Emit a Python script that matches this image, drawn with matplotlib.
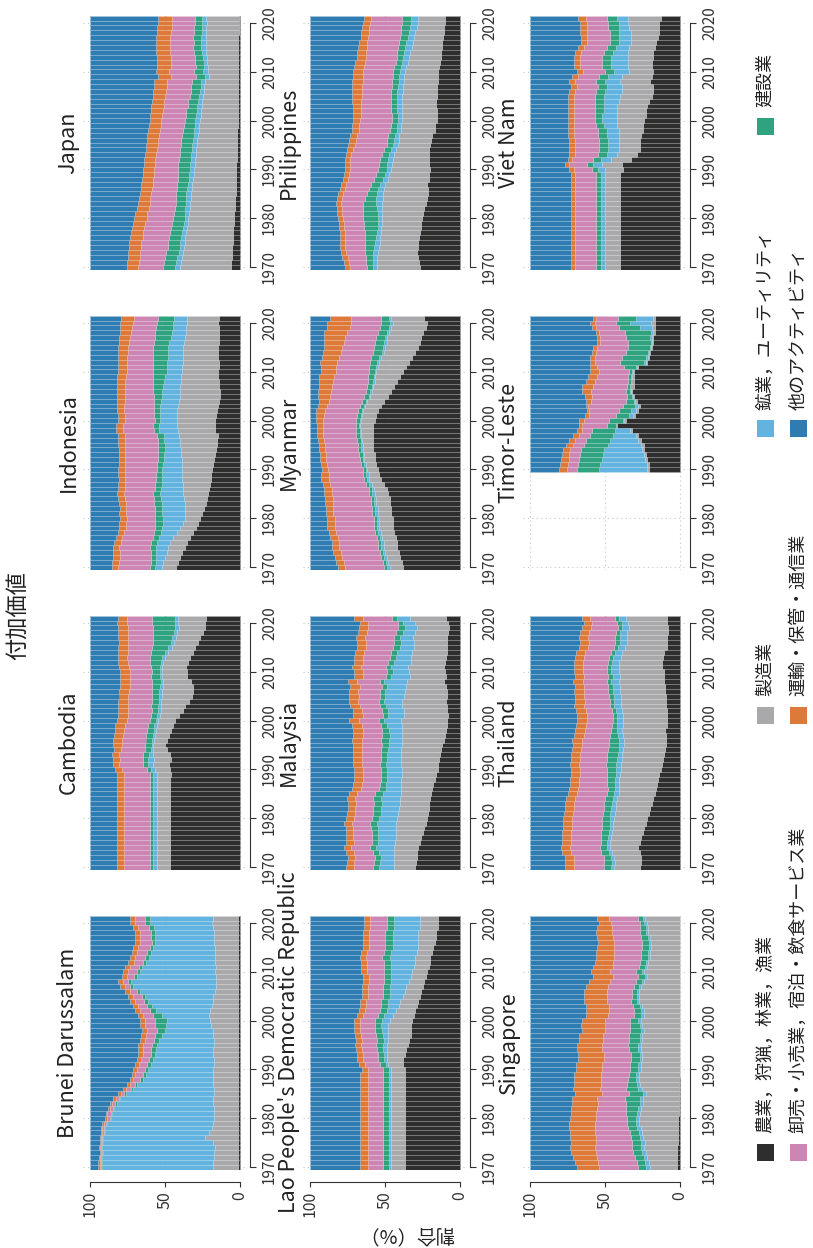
import numpy as np
import matplotlib.pyplot as plt
from matplotlib.patches import Rectangle

plt.rcParams['font.family'] = ['Noto Sans CJK JP', 'DejaVu Sans']

years = np.arange(1970, 2022)
years_tls = np.arange(1990, 2022)

sector_names = ['農業，狩猟，林業，漁業', '製造業', '鉱業，ユーティリティ', '建設業',
                '卸売・小売業，宿泊・飲食サービス業', '運輸・保管・通信業', '他のアクティビティ']
sector_colors = ['#2e2e2e', '#a9a9ab', '#62b3e0', '#2fa37f', '#cd86b4', '#dd7a3a', '#2f7cb2']

# shares in %, 1970-2021 (Timor-Leste 1990-2021); "other" is the rest up to 100
jpn_agri = [6.0,5.8,5.5,5.3,5.1,5.0,4.8,4.6,4.4,4.2,
            4.0,3.7,3.5,3.3,3.2,3.0,2.9,2.8,2.7,2.6,
            2.5,2.4,2.2,2.1,2.0,1.8,1.8,1.7,1.7,1.6,
            1.5,1.5,1.4,1.4,1.3,1.2,1.2,1.1,1.1,1.1,
            1.1,1.1,1.1,1.1,1.1,1.1,1.1,1.1,1.0,1.0,
            1.0,1.0]
jpn_manuf = [34.0,33.6,33.0,32.5,32.2,32.0,31.6,31.2,30.8,30.7,
             30.5,30.3,30.1,29.9,29.8,29.7,29.3,29.0,28.6,28.3,
             28.0,27.8,27.6,27.3,27.1,27.0,26.6,26.3,25.9,25.5,
             25.2,24.8,24.5,24.1,23.9,23.2,23.0,22.8,22.5,19.6,
             20.4,20.1,20.6,21.0,21.3,21.8,21.7,21.9,21.6,21.5,
             21.2,21.4]
jpn_mining = [3.3,3.2,3.2,3.1,2.8,2.9,3.0,3.0,2.9,2.6,
              2.3,2.6,2.8,2.9,2.9,3.0,3.1,3.0,2.9,2.8,
              2.9,2.9,3.0,3.0,3.1,3.1,3.0,3.0,3.1,3.1,
              3.0,3.0,3.0,2.9,2.8,2.7,2.5,2.4,2.3,2.8,
              2.9,2.6,2.5,2.6,2.8,3.0,3.1,3.0,2.9,2.9,
              2.9,2.8]
jpn_constr = [7.8,7.9,8.1,8.5,8.2,8.0,7.9,8.0,8.1,8.0,
              7.7,7.5,7.2,6.9,6.8,6.7,6.8,7.1,7.4,7.6,
              7.8,8.0,8.0,7.8,7.6,7.5,7.7,7.5,7.3,7.3,
              7.2,7.0,6.8,6.6,6.4,6.3,6.2,6.1,6.0,6.0,
              6.0,5.8,5.6,5.5,5.4,5.2,5.1,5.1,5.0,5.0,
              5.0,4.9]
jpn_trade = [16.7,16.9,17.2,17.5,17.6,17.8,17.6,17.7,17.9,17.8,
             17.8,17.6,17.4,17.2,17.0,16.8,16.6,16.4,16.2,16.1,
             16.0,15.9,15.8,15.7,15.6,15.6,15.5,15.5,15.4,15.5,
             15.5,15.6,15.8,16.0,16.2,16.3,16.4,16.5,16.6,16.6,
             16.7,16.5,16.2,16.0,15.8,15.6,15.5,15.4,15.3,15.2,
             15.1,15.0]
jpn_transport = [7.8,7.8,7.9,8.0,8.1,8.1,8.2,8.2,8.2,8.2,
                 8.2,8.1,8.0,7.9,7.8,7.7,7.6,7.5,7.4,7.4,
                 7.3,7.3,7.4,7.5,7.6,7.6,7.7,7.7,7.8,7.8,
                 7.8,7.9,8.0,8.2,8.4,8.5,8.6,8.7,8.8,8.9,
                 8.9,9.0,9.1,9.2,9.3,9.4,9.5,9.6,9.7,9.8,
                 9.8,9.8]

idn_agri = [42.9,41.5,40.0,38.5,37.0,35.6,33.5,31.5,29.5,28.0,
            26.7,25.5,24.0,23.0,22.0,21.1,20.5,20.0,19.5,19.2,
            18.9,18.0,17.5,16.8,16.0,15.6,15.3,15.0,16.5,17.0,
            16.7,16.0,15.5,15.0,14.0,13.3,13.5,13.7,14.0,14.5,
            14.4,14.2,14.3,14.4,14.5,14.4,14.3,14.2,14.1,14.0,
            14.4,14.2]
idn_manuf = [9.3,9.6,10.0,10.4,10.8,11.1,10.9,10.6,10.3,10.1,
             10.0,11.2,12.5,13.8,15.2,16.7,17.5,18.3,19.0,19.5,
             20.0,20.8,21.5,22.3,23.5,24.4,25.0,25.5,25.0,25.3,
             25.5,26.0,26.3,26.5,26.7,26.7,26.5,26.0,25.5,25.0,
             24.5,24.3,24.0,23.8,23.6,23.4,23.0,22.6,22.2,21.8,
             21.2,21.0]
idn_mining = [4.5,5.2,6.0,7.0,8.5,8.9,9.8,10.8,12.0,13.5,
              14.4,15.0,15.3,15.5,15.6,15.5,14.5,14.0,13.5,13.2,
              12.9,12.5,12.0,11.5,10.5,10.0,10.2,10.5,12.5,12.0,
              11.1,11.5,11.8,12.0,12.1,12.2,12.0,11.6,11.0,10.5,
              10.0,10.1,10.2,10.1,10.0,10.0,9.8,9.5,9.3,9.1,
              8.8,8.6]
idn_constr = [3.3,3.3,3.4,3.4,3.5,3.5,4.0,4.5,5.0,5.3,
              5.6,5.3,5.0,4.8,4.6,4.5,4.3,4.1,4.0,3.9,
              3.8,3.9,4.0,4.2,4.4,4.5,4.4,4.2,3.6,3.5,
              3.4,3.6,3.8,4.1,4.5,5.0,5.8,6.5,7.5,8.2,
              8.9,9.2,9.5,9.7,9.9,10.0,10.2,10.5,10.8,11.0,
              11.2,11.1]
idn_trade = [21.1,21.0,20.9,20.7,20.6,20.5,20.2,19.8,19.4,19.1,
             18.9,19.0,19.1,19.2,19.4,19.5,19.9,20.3,20.6,20.9,
             21.1,21.3,21.5,21.7,22.0,22.2,22.0,21.5,20.5,20.2,
             20.0,19.9,19.8,19.7,19.6,19.5,19.2,18.8,18.4,18.1,
             17.8,17.6,17.4,17.1,16.9,16.7,16.5,16.3,16.1,15.8,
             15.5,15.6]
idn_transport = [4.5,4.5,4.5,4.4,4.4,4.4,4.4,4.4,4.4,4.4,
                 4.4,4.4,4.4,4.4,4.4,4.4,4.4,4.4,4.4,4.4,
                 4.4,4.4,4.4,4.5,4.5,4.5,4.5,4.5,4.4,4.4,
                 4.4,4.5,4.6,4.7,4.8,5.0,5.1,5.2,5.3,5.4,
                 5.5,5.7,5.9,6.1,6.4,6.7,7.0,7.3,7.6,8.0,
                 8.9,8.6]

khm_agri = [46.7,46.7,46.7,46.7,46.7,46.7,46.7,46.7,46.7,46.7,
            46.7,46.7,46.7,46.7,46.7,46.7,46.7,46.7,46.7,46.0,
            46.7,47.5,46.0,47.0,49.0,50.0,49.0,47.5,46.0,45.0,
            43.3,40.5,38.0,36.5,34.0,32.2,31.5,31.5,33.0,35.5,
            35.6,35.8,35.0,33.5,31.5,30.0,28.0,26.5,25.0,23.5,
            23.3,23.0]
khm_manuf = [8.9,8.9,8.9,8.9,8.9,8.9,8.9,8.9,8.9,8.9,
             8.9,8.9,8.9,8.9,8.9,8.9,8.9,8.9,8.9,9.5,
             10.0,10.5,11.5,11.0,9.0,7.8,8.2,9.0,10.0,10.5,
             11.1,13.0,15.0,16.5,18.5,20.0,20.5,20.0,18.5,16.5,
             16.2,16.0,16.2,16.5,16.2,15.6,16.0,16.5,17.0,17.5,
             17.8,18.5]
khm_mining = [2.2,2.2,2.2,2.2,2.2,2.2,2.2,2.2,2.2,2.2,
              2.2,2.2,2.2,2.2,2.2,2.2,2.2,2.2,2.2,2.3,
              2.6,3.5,4.0,3.0,1.5,1.1,1.2,1.4,1.5,1.6,
              1.8,1.8,1.8,1.7,1.7,1.8,1.7,1.6,1.5,1.5,
              1.5,1.6,1.7,1.9,2.1,2.2,2.3,2.3,2.2,2.2,
              2.2,2.1]
khm_constr = [2.2,2.2,2.2,2.2,2.2,2.2,2.2,2.2,2.2,2.2,
              2.2,2.2,2.2,2.2,2.2,2.2,2.2,2.2,2.2,2.5,
              2.9,3.0,3.0,3.5,4.0,4.4,4.6,4.5,4.2,4.0,
              3.8,4.0,4.2,4.5,4.8,4.9,5.2,5.5,5.8,5.6,
              5.6,6.0,6.8,8.0,9.5,11.1,12.0,13.0,14.0,15.0,
              15.6,15.0]
khm_trade = [17.1,17.1,17.1,17.1,17.1,17.1,17.1,17.1,17.1,17.1,
             17.1,17.1,17.1,17.1,17.1,17.1,17.1,17.1,17.1,17.0,
             16.7,16.0,15.5,16.0,15.8,15.6,15.6,15.5,15.5,15.6,
             15.6,15.6,15.5,15.5,15.5,15.5,15.3,15.0,14.7,14.5,
             14.4,14.5,14.8,15.2,15.6,16.0,16.3,16.5,16.6,16.7,
             16.7,16.5]
khm_transport = [5.1,5.1,5.1,5.1,5.1,5.1,5.1,5.1,5.1,5.1,
                 5.1,5.1,5.1,5.1,5.1,5.1,5.1,5.1,5.1,5.0,
                 4.4,4.5,4.6,4.8,5.0,5.5,5.8,6.0,6.3,6.5,
                 6.6,6.6,6.6,6.6,6.6,6.6,6.7,6.7,6.7,6.7,
                 6.7,6.7,6.6,6.5,6.4,6.2,6.3,6.4,6.5,6.6,
                 6.6,6.5]

brn_agri = [1.2,1.2,1.2,1.2,1.2,1.2,1.2,1.2,1.2,1.2,
            1.2,1.2,1.2,1.2,1.2,1.2,1.2,1.2,1.2,1.2,
            1.2,1.2,1.2,1.2,1.2,1.2,1.2,1.2,1.2,1.2,
            1.2,1.2,1.2,1.2,1.2,1.2,1.2,1.2,1.2,1.2,
            1.2,1.2,1.2,1.2,1.2,1.2,1.2,1.2,1.2,1.2,
            1.2,1.2]
brn_manuf = [16.6,16.6,16.4,16.0,15.5,16.6,22.0,19.5,17.5,16.8,
             16.0,16.2,16.4,16.6,16.6,16.4,16.4,16.6,16.6,16.6,
             16.6,16.4,16.4,16.6,16.6,16.4,16.4,16.6,17.0,18.0,
             18.8,19.5,18.5,17.5,17.0,16.6,15.5,15.0,14.5,15.0,
             15.4,15.0,15.2,15.4,15.6,15.5,16.0,16.2,16.4,16.6,
             17.6,17.0]
brn_mining = [74.4,74.5,74.3,74.0,75.2,73.3,67.9,69.6,71.3,70.7,
              68.8,68.1,66.3,64.5,61.9,58.6,54.0,50.8,47.1,45.2,
              43.3,41.9,40.3,38.7,38.3,38.0,36.1,34.2,31.9,30.3,
              28.9,31.1,36.5,39.9,43.4,45.5,50.3,55.1,56.9,52.6,
              50.1,49.1,46.2,44.4,42.7,41.1,39.2,39.0,38.9,39.8,
              41.2,41.8]
brn_constr = [0.5,0.5,0.5,0.6,0.6,0.7,0.7,0.7,0.7,0.7,
              0.7,0.7,0.8,0.8,0.9,0.9,1.2,1.5,1.8,2.0,
              2.2,2.4,2.6,2.8,3.0,3.3,3.8,4.4,5.5,7.0,
              7.8,6.0,4.0,3.2,2.6,2.3,2.0,2.0,2.0,2.2,
              2.2,2.2,2.2,2.2,2.2,2.2,2.5,2.8,3.0,3.2,
              3.3,3.3]
brn_trade = [0.6,0.6,0.7,0.7,0.8,0.9,0.9,1.0,1.2,1.5,
             2.2,2.2,2.2,2.2,2.2,2.2,3.0,3.5,4.5,5.0,
             5.6,5.6,5.6,5.5,5.5,5.5,5.8,6.2,6.6,6.8,
             6.6,6.6,6.4,6.0,5.8,5.5,4.5,3.5,3.3,4.5,
             5.5,5.8,6.2,6.8,7.2,7.8,7.8,7.5,7.2,7.0,
             6.7,6.7]
brn_transport = [1.1,1.0,0.9,0.8,0.7,0.6,0.6,0.7,0.8,0.9,
                 1.1,1.2,1.3,1.4,1.6,1.8,2.0,2.0,2.1,2.2,
                 2.2,2.5,2.8,3.0,3.2,3.4,3.4,3.4,3.4,3.4,
                 3.4,3.4,3.4,3.3,3.3,3.3,3.2,3.2,3.2,3.4,
                 3.4,3.4,3.4,3.3,3.3,3.3,3.3,3.3,3.3,3.3,
                 3.3,3.3]

phl_agri = [26.7,27.5,28.0,28.5,28.2,27.8,27.3,26.8,26.3,25.9,
            25.6,25.0,24.0,23.0,22.0,21.1,21.5,21.8,21.0,20.5,
            20.0,20.5,21.0,21.0,20.5,20.0,19.5,18.5,17.0,16.5,
            15.6,15.5,15.6,15.7,15.8,15.6,15.4,15.2,15.0,14.7,
            14.4,14.0,13.5,13.0,12.6,12.2,11.8,11.3,10.8,10.4,
            10.0,10.2]
phl_manuf = [28.9,28.0,27.2,26.5,26.0,25.5,25.8,26.0,26.2,26.4,
             26.6,27.2,28.0,28.8,29.5,30.0,29.0,28.0,27.2,26.6,
             26.0,25.0,24.0,23.0,22.0,21.1,21.5,22.0,22.5,22.9,
             23.3,23.2,23.1,23.0,22.9,22.8,22.7,22.6,22.5,22.4,
             22.3,21.9,21.5,21.0,20.5,20.0,19.6,19.2,18.9,18.6,
             18.2,18.0]
phl_mining = [2.2,2.4,2.6,2.9,3.2,3.4,3.0,2.6,2.4,2.3,
              2.2,2.8,3.5,4.2,4.6,4.5,4.0,3.5,3.2,3.0,
              2.9,3.0,3.1,3.2,3.3,3.3,3.1,2.9,2.8,2.7,
              2.7,2.9,3.1,3.3,3.6,3.8,3.7,3.6,3.5,3.4,
              3.3,3.5,3.7,3.9,4.2,4.5,4.5,4.5,4.5,4.5,
              4.5,4.4]
phl_constr = [4.4,4.8,5.2,5.6,6.1,6.6,7.3,8.0,8.8,9.5,
              10.0,9.8,9.2,8.4,7.4,6.6,6.2,5.9,5.7,5.6,
              5.5,5.3,5.1,4.9,4.7,4.5,4.4,4.3,4.2,4.1,
              4.0,3.9,3.9,3.8,3.8,3.8,3.9,4.0,4.1,4.3,
              4.4,4.3,4.3,4.4,4.4,4.4,4.7,5.0,5.4,5.8,
              6.2,6.0]
phl_trade = [11.1,11.5,12.0,12.4,12.9,13.4,13.4,13.4,13.4,13.4,
             13.4,13.8,14.3,14.8,15.2,15.6,16.3,17.0,17.7,18.3,
             18.9,19.4,19.9,20.3,20.7,21.1,21.1,21.1,21.1,21.1,
             21.1,20.8,20.5,20.2,19.9,19.6,19.7,19.8,19.9,20.0,
             20.0,20.2,20.4,20.6,20.9,21.1,21.1,21.1,21.1,21.1,
             21.1,21.0]
phl_transport = [3.4,3.4,3.4,3.3,3.3,3.3,3.3,3.3,3.3,3.3,
                 3.3,3.3,3.3,3.3,3.3,3.3,3.3,3.3,3.3,3.3,
                 3.4,3.5,3.6,3.8,4.1,4.4,4.4,4.4,4.4,4.4,
                 4.4,4.8,5.2,5.6,6.1,6.6,6.6,6.6,6.7,6.7,
                 6.7,6.5,6.3,6.0,5.8,5.6,5.4,5.2,5.0,4.7,
                 4.4,4.5]

lao_agri = [37,37,37,37,37,37,37,37,37,37,
            37,37,37,37,37,37,37,37,37,37,
            37,38,38,37,36,35,34,33,33,33,
            32,31,30,29,28,27,26,25,24,23,
            22,21,20,20,19,18,17,16,16,15,
            15,15]
lao_manuf = [9,9,9,9,9,9,9,9,9,9,
             9,9,9,9,9,9,9,9,9,9,
             9,10,11,12,13,14,14,15,15,15,
             15,14,13,12,12,11,11,11,10,10,
             10,10,10,10,10,10,11,12,12,12,
             12,12]
lao_mining = [1.5,1.5,1.5,1.5,1.5,1.5,1.5,1.5,1.5,1.5,
              1.5,1.5,1.5,1.5,1.5,1.5,1.5,1.5,1.5,1.5,
              1.5,1.6,1.8,2.0,2.3,2.5,3.0,3.5,4.0,4.5,
              5.0,5.5,6.0,7.0,8.0,9.0,10.0,11.0,12.0,13.0,
              14.0,15.0,16.0,17.0,17.0,17.0,17.0,17.0,17.0,17.0,
              17.0,17.0]
lao_constr = [4,4,4,4,4,4,4,4,4,4,
              4,4,4,4,4,4,4,4,4,4,
              4,4,4,4,4.2,4.4,4.5,4.5,4.5,4.5,
              4.5,4.5,4.5,4.5,4.5,4.5,4.5,4.5,4.5,4.5,
              5,5,5,5,5,5,5,5,5,5,
              5,5]
lao_trade = [10,10,10,10,10,10,10,10,10,10,
             10,10,10,10,10,10,10,10,10,10,
             10,10,10,10,10,10,10,10,10,10,
             10,10,10,10,10,10,10,10,10,10,
             11,11,11,11,11,11,11,11,11,11,
             11,11]
lao_transport = [5,5,5,5,5,5,5,5,5,5,
                 5,5,5,5,5,5,5,5,5,5,
                 4,4,4,4,4,4,4,4,4,4,
                 4,4,4,4,4,4,4,4,4,4,
                 4,4,4,4,4,4,4,4,4,4,
                 4,4]

mys_agri = [30,29.5,29,28.5,28,27,26,25,24,23,
            22,21.5,21,20.5,20,19.5,19,18,17,16,
            15,14.5,14,13.5,13,12,11,10,9.5,9,
            8.5,8.3,8.5,9,9.2,8.7,8.8,9.5,10.5,9.5,
            10,11,10,9.5,9,8.5,8.5,8.7,7.8,7.5,
            8.2,9.5]
mys_manuf = [14,14.5,15,15.5,16,16.5,17,17.5,18.5,19.5,
             20,20,19.5,19.5,20,20,20.5,21.5,22.5,23,
             24,25,25.5,26,26.5,27,28,28.5,29,30,
             31,29,29,29.5,29.5,28.5,28,26.5,25,24,
             24,23.5,23,23,23,22.5,22.5,22.5,22,21.5,
             22,24]
mys_mining = [10,9.5,9,10,12,11,11.5,12,12,13,
              12,11.5,12,12,12.5,12,10,10,9.5,10,
              10,10,9.5,9,8.5,8.5,8.5,8.5,9,10,
              11,10.5,10.5,11,12,13,13.5,13,15,12.5,
              11,11.5,11,10.5,10,9,8.5,8.5,8.5,8,
              7.5,8.5]
mys_constr = [4,4,4,4,4,4,4.2,4.4,4.6,4.8,
              5,5.3,5.5,5.5,5.3,5,4.5,4,3.5,3.5,
              3.5,3.7,3.9,4.2,4.5,4.8,5,5,4.5,4,
              3.8,3.8,3.7,3.6,3.4,3.2,3.1,3,3,3.2,
              3.5,3.5,3.8,4,4.2,4.5,4.5,4.5,4.4,4.3,
              3.8,3.4]
mys_trade = [13,13,13,12.8,12.5,12.5,12.5,12.3,12.2,12,
             12,12,12,12,12,12,12,12,12,12,
             12,12,12.2,12.4,12.6,12.8,13,13,12.5,12.5,
             13,13.2,13.4,13.6,13.8,14,14.5,15,15,15.5,
             16,16.5,17,17.5,18,18.5,19,19,19.5,20,
             20,19.5]
mys_transport = [5,5,5,5,5,5,5,5,5,5,
                 5,5,5,5.2,5.4,5.6,5.8,6,6,6,
                 6,6,6,6,6,6,6.2,6.4,6.6,6.8,
                 6.5,6.5,6.5,6.5,6.4,6.3,6.2,6.1,6,6,
                 6,6,6,6,6,6,6,6,6,6,
                 5.5,5.5]

mmr_agri = [38,39,40,41,42,42,43,44,45,45,
            45,46,46,47,47,48,49,51,53,54,
            55,56,57,57,58,58,58,58,58,58,
            57,56,55,53,51,48,46,44,42,40,
            38,36,34,32,30,28,27,26,25,23,
            22,24]
mmr_manuf = [9,9,9,9,9,9,9,9,9,9,
             9,9,9,9,9,9,8.5,8,7.5,7,
             7,7,7,7,7,7,7.5,8,8,8.5,
             9,9.5,10,10.5,11,12,13,14,15,16.5,
             18,19,20,20.5,21,22,22,22.5,22.5,23,
             23,22]
mmr_mining = [1.5,1.5,1.5,1.5,1.5,1.5,1.5,1.5,1.5,1.5,
              1.5,1.5,1.5,1.5,1.5,1.5,1.5,1.5,1.5,1.5,
              1,1,1,1,0.9,0.8,0.8,0.7,0.7,0.6,
              0.6,0.6,0.6,0.6,0.7,0.7,0.7,0.8,0.8,0.9,
              1,1,1.1,1.2,1.3,1.5,1.5,1.5,1.5,1.5,
              1.5,1.5]
mmr_constr = [2,2,2,2,2,2,2,2,2,2,
              2,2,2,2,2,2,2,2,2,2,
              2,2,2,2.2,2.4,2.5,2.5,2.5,2.5,2.5,
              2.5,2.5,2.6,2.7,2.8,3,3.2,3.4,3.6,3.8,
              4,4.5,5,5.5,5.8,6,6,6,6,6,
              6,5.5]
mmr_trade = [26,26,26,26,26,26,26,26,26,26,
             26,26,26,25.5,25.5,25,24.5,24,23.5,23,
             23,22.5,22.5,22,22,22,22,22,22,22,
             22,22,22,22,22,23,23,23,23,23,
             22,22,22,21.5,21.5,21,21,20.5,20.5,20,
             20,20]
mmr_transport = [5,5,5,5,5,5,5,5,5,5,
                 5,5,5,5,5,5,5,5,5,5,
                 4,4,4,4,4,4,4,4,4,4,
                 5,5.3,5.6,6,6.5,8,8.5,9,9.5,10,
                 10,10.5,11,11.5,12,12,13,14,15,15.5,
                 16,14]

sgp_agri = [2.2,2.0,1.9,1.8,1.7,1.6,1.5,1.4,1.3,1.2,
            1.1,1.0,0.9,0.8,0.7,0.6,0.5,0.4,0.4,0.3,
            0.3,0.3,0.2,0.2,0.2,0.2,0.2,0.2,0.2,0.2,
            0.1,0.1,0.1,0.1,0.1,0.1,0.1,0.1,0.1,0.1,
            0.1,0.1,0.1,0.1,0.1,0.1,0.1,0.1,0.1,0.1,
            0.1,0.1]
sgp_manuf = [18,19,20,21,22,22,23,24,25,26,
             26,26,25,24,24,22,25,26,27,27,
             26,26,25,25,26,26,25,25,24,25,
             26,24,24,25,27,27,27,26,24,22,
             24,22,21,20,20,19,19,20,21,21,
             22,23]
sgp_mining = [2.5,2.5,2.4,2.4,2.3,2.3,2.2,2.2,2.1,2.1,
              2.0,2.0,2.0,2.1,2.1,2.2,2.3,2.2,2.1,2.0,
              1.9,1.9,1.8,1.8,1.7,1.7,1.7,1.6,1.6,1.6,
              1.6,1.7,1.7,1.6,1.5,1.5,1.4,1.3,1.3,1.4,
              1.3,1.3,1.3,1.4,1.4,1.5,1.5,1.5,1.5,1.5,
              1.6,1.5]
sgp_constr = [5,5.2,5.5,6,6,6,6,6,6,6.2,
              6.5,7,8,9,10,9.5,8,6.5,5.5,5,
              5,5.3,5.6,6,6,6.5,7,7.5,7.5,6.5,
              5.5,5,4.8,4.4,4,3.6,3.4,3.5,4,4.2,
              4,4,4.2,4.3,4.5,4.8,4.7,4.3,4,3.8,
              3,3.2]
sgp_trade = [26,26,25.5,25,24.5,24,23.5,23,22.5,21.5,
             20.5,20,19.5,19,18.5,18,17.5,17.5,18,18.5,
             18.5,18.3,18.1,18,17.8,17.5,17.2,17,16.8,17,
             17,17,16.8,16.5,16.3,16.5,16.8,17,17.2,17,
             17,17.5,17.8,18,18.2,18.3,18.5,18.7,18.8,19,
             19,19.5]
sgp_transport = [15,15.5,16,16.5,17,17,17,17,17,17,
                 17,17,17,17,17,17.5,18,18,18,18,
                 17.5,17.5,17,17,17,17,16.5,16,15.5,15.5,
                 15,15,15,15,15,15,15,14.5,14,13.5,
                 13,13,12.5,12,12,11.5,11,11,10.5,10,
                 8,8]

tha_agri = [27,26,26,27,28,27,26,25,24,23,
            22,21,20,19,18,17,16,15.5,15,14,
            12.5,12,11.5,10.5,10,9.5,9.5,9.5,10,9,
            9,9,9,9.5,9.5,9.5,10,10,11,11,
            11,12,12,11.5,10.5,9,8.5,8.5,8.3,8,
            8.5,9]
tha_manuf = [17,17.5,18,18.5,19,19.5,20,20.5,21,21.5,
             22,22.5,23,23.5,24,24,24.5,25,25.5,26,
             27,27.5,27.5,28,28,28,28,28.5,28.5,29,
             29,29,29.5,30,30,30,30,30,30,29,
             30,29,28.5,28,28,27.5,27,27,27,26,
             26,27]
tha_mining = [2,2,2,2,2,2,2,2,2,2.5,
              3,3,3,3,3,3,3,3,3,3,
              3,3,3,3,3,3,3.2,3.5,3.8,4,
              4,4,4,4.2,4.5,4.8,5,5,5,5,
              5,5,5,5,5,4.8,4.8,4.8,4.8,4.6,
              4.5,4.5]
tha_constr = [5,5,5,5,4.5,4.5,4.8,5,5.2,5.2,
              5,5,5,5,5,4.8,4.8,5,5.5,6,
              6.5,7,7,7,7,7,6.5,5,4,3.5,
              3,3,3,3,3,3,3,2.8,2.7,2.7,
              2.7,2.6,2.7,2.7,2.7,2.8,2.9,2.9,2.9,2.8,
              2.8,2.8]
tha_trade = [20,20,20,20,20,20,20,20,20,20,
             20,20,20,20,20,20,19.5,19,18.5,18,
             18,18,18,18,18,18,18,17.5,17,17,
             17,17,17,17,16.5,16.5,16,16,16,16,
             16,16,16.5,17,17,17.5,17.5,18,18,18,
             17,17]
tha_transport = [6,6,6,6,6,6,6,6,6,6,
                 6,6,6,6,6,6,6,6,6,6,
                 6,6,6,6,6,6,6.5,7,7,7,
                 7,7,7,6.8,6.6,6.5,6.5,6.5,6.5,6.2,
                 6,6,6,6,6,6,6,6,6,6,
                 5,5]

tls_agri = [21,21,22,23,24,24,26,28,32,42,
            36,30,28,27,29,31,32,31,31,31,
            31,28,22,21,20,19,18,18,17,17,
            17,17]
tls_manuf = [1.1,1.1,1.2,1.3,1.5,2.3,2.0,1.5,1.1,0.5,
             1.1,1.1,1.1,1.1,0.8,0.5,1.0,2.2,1.5,1.0,
             0.5,0.5,0.5,0.5,0.5,0.5,0.8,1.0,1.1,1.5,
             2.2,1.1]
tls_mining = [32,31,29,27,25,22,19,15,10,0.5,
              1.1,3.0,3.5,2.2,1.0,0.6,0.4,0.2,0.3,0.4,
              0.5,1.0,1.7,1.2,0.8,0.6,0.6,0.8,1.1,8.0,
              14.4,11.1]
tls_constr = [14.5,14.8,15.0,15.2,15.4,15.5,15.6,15.6,15.6,5.6,
              8.9,8.5,8.0,7.8,5.5,3.4,2.8,2.2,2.2,2.3,
              2.3,8.0,15.6,16.0,15.0,14.4,15.0,16.0,17.8,14.0,
              8.9,12.2]
tls_trade = [6.7,6.9,7.1,7.3,7.5,7.8,7.5,7.2,6.7,16.6,
             16.6,18.0,20.0,23.3,23.3,23.3,23.0,22.2,21.5,20.5,
             20.0,18.0,16.7,18.0,20.0,21.1,19.0,17.5,16.7,15.5,
             14.4,14.5]
tls_transport = [5.5,5.3,5.1,4.9,4.7,4.5,4.2,3.8,3.3,2.3,
                 3.4,2.5,1.5,1.1,3.0,4.4,6.0,7.8,6.5,6.0,
                 5.6,4.5,3.3,3.0,2.6,2.2,2.2,2.2,2.2,2.8,
                 3.4,2.2]

vnm_agri = [40,40,40,40,40,40,40,40,40,40,
            40,40,40,40,40,40,40,40,40,40,
            38,39,33,29,27,27,27,26,25,25,
            24,23,23,22,21,19,18,18,20,19,
            18,19,19,18,18,17,16,15,14,14,
            14,13]
vnm_manuf = [10,10,10,10,10,10,10,10,10,10,
             10,10,10,10,10,10,10,10,10,10,
             12,13,13,13,14,14,14,15,16,17,
             18,19,19,20,20,21,21,21,20,20,
             16,16,16,17,17,17,17,18,19,20,
             21,22]
vnm_mining = [3,3,3,3,3,3,3,3,3,3,
              3,3,3,3,3,3,3,3,3,3,
              5,6,7,7,7,7,7,8,8,9,
              10,10,9,9,10,11,11,10,10,9,
              10,11,11,11,10,9,8,8,8,7,
              6,7]
vnm_constr = [3,3,3,3,3,3,3,3,3,3,
              3,3,3,3,3,3,3,3,3,3,
              4,4,5,6,6,6,6,6,6,5,
              5,5,6,6,6,6,6,6,6,6,
              6,6,6,6,6,6,6,6,6,7,
              7,7]
vnm_trade = [14,14,14,14,14,14,14,14,14,14,
             14,14,14,14,14,14,14,14,14,14,
             12,12,14,15,16,16,16,16,16,15,
             14,14,14,14,14,14,14,14,14,14,
             15,15,15,15,15,15,15,15,15,14,
             14,14]
vnm_transport = [3,3,3,3,3,3,3,3,3,3,
                 3,3,3,3,3,3,3,3,3,3,
                 3,3,3,4,4,4,4,4,4,4,
                 4,4,4,4,4,4,4,4,4,4,
                 4,4,4,4,4,4,4,4,5,5,
                 5,5]

countries = [
    ('Brunei Darussalam', years, [brn_agri, brn_manuf, brn_mining, brn_constr, brn_trade, brn_transport]),
    ('Cambodia', years, [khm_agri, khm_manuf, khm_mining, khm_constr, khm_trade, khm_transport]),
    ('Indonesia', years, [idn_agri, idn_manuf, idn_mining, idn_constr, idn_trade, idn_transport]),
    ('Japan', years, [jpn_agri, jpn_manuf, jpn_mining, jpn_constr, jpn_trade, jpn_transport]),
    ("Lao People's Democratic Republic", years, [lao_agri, lao_manuf, lao_mining, lao_constr, lao_trade, lao_transport]),
    ('Malaysia', years, [mys_agri, mys_manuf, mys_mining, mys_constr, mys_trade, mys_transport]),
    ('Myanmar', years, [mmr_agri, mmr_manuf, mmr_mining, mmr_constr, mmr_trade, mmr_transport]),
    ('Philippines', years, [phl_agri, phl_manuf, phl_mining, phl_constr, phl_trade, phl_transport]),
    ('Singapore', years, [sgp_agri, sgp_manuf, sgp_mining, sgp_constr, sgp_trade, sgp_transport]),
    ('Thailand', years, [tha_agri, tha_manuf, tha_mining, tha_constr, tha_trade, tha_transport]),
    ('Timor-Leste', years_tls, [tls_agri, tls_manuf, tls_mining, tls_constr, tls_trade, tls_transport]),
    ('Viet Nam', years, [vnm_agri, vnm_manuf, vnm_mining, vnm_constr, vnm_trade, vnm_transport]),
]

W, H = 813, 1248
fig = plt.figure(figsize=(W / 100, H / 100), dpi=100)

# the chart is laid out turned a quarter turn: years run upward, shares run right-to-left
ax_w, ax_h = 165, 254.8
for k, (name, yrs, parts) in enumerate(countries):
    col = k // 4
    row = 3 - k % 4
    left_px = 82.5 + 220 * col
    top_px = 15.2 + 300 * row
    ax = fig.add_axes([left_px / W, 1 - (top_px + ax_h) / H, ax_w / W, ax_h / H])

    shares = [np.array(p, dtype=float) for p in parts]
    shares.append(100 - np.sum(shares, axis=0))
    start = np.zeros(len(yrs))
    for vals, color in zip(shares, sector_colors):
        ax.barh(yrs, vals, left=start, height=1.0, color=color,
                edgecolor=(1, 1, 1, 0.13), linewidth=0.6, zorder=2)
        start = start + vals

    ax.set_xlim(105, -5)
    ax.set_ylim(1969.4, 2021.6)
    ax.set_xticks([0, 50, 100])
    ax.set_yticks(range(1970, 2021, 10))
    ax.grid(True, color='#c4c4c4', linestyle=(0, (1, 3)), linewidth=0.8, zorder=0)
    ax.set_axisbelow(True)

    ax.spines['left'].set_visible(False)
    ax.spines['top'].set_visible(False)
    ax.spines['right'].set_position(('outward', 1.5))
    ax.spines['right'].set_bounds(1970, 2020)
    ax.spines['right'].set_color('#333333')
    ax.yaxis.tick_right()
    ax.tick_params(axis='y', direction='out', length=4.3, width=0.8, pad=4,
                   labelsize=11, colors='#333333', labelrotation=90)
    for lab in ax.get_yticklabels():
        lab.set_va('center')
        lab.set_ha('left')

    if row == 3:
        ax.spines['bottom'].set_position(('outward', 8.6))
        ax.spines['bottom'].set_bounds(0, 100)
        ax.spines['bottom'].set_color('#333333')
        ax.tick_params(axis='x', direction='out', length=3.6, width=0.8, pad=3,
                       labelsize=11.5, colors='#333333', labelrotation=90)
        ax.set_xticklabels(['0', '50', '100'])
    else:
        ax.spines['bottom'].set_visible(False)
        ax.tick_params(axis='x', length=0, labelbottom=False)

    fig.text((left_px - 3) / W, 1 - (top_px + ax_h / 2) / H, name, rotation=90,
             ha='right', va='center', fontsize=15.5, color='#222222')

fig.text(18 / W, 1 - 615 / H, '付加価値', rotation=90, ha='center', va='center',
         fontsize=16, color='#222222')
fig.text(405 / W, 1 - 1234 / H, '割合（%）', rotation=180, ha='center', va='center',
         fontsize=14, color='#222222')

# legend, drawn by hand so it can follow the turned layout
legend_pos = [(765, 1152), (765, 715), (765, 429), (765, 126),
              (798, 1152), (798, 715), (798, 429)]
for (cx, cy), label, color in zip(legend_pos, sector_names, sector_colors):
    fig.add_artist(Rectangle(((cx - 8.5) / W, 1 - (cy + 8.5) / H), 17 / W, 17 / H,
                             transform=fig.transFigure, facecolor=color, edgecolor='none'))
    fig.text(cx / W, 1 - (cy - 19) / H, label, rotation=90, ha='center', va='bottom',
             fontsize=13, color='#222222')

fig.savefig('out.png', dpi=100)
